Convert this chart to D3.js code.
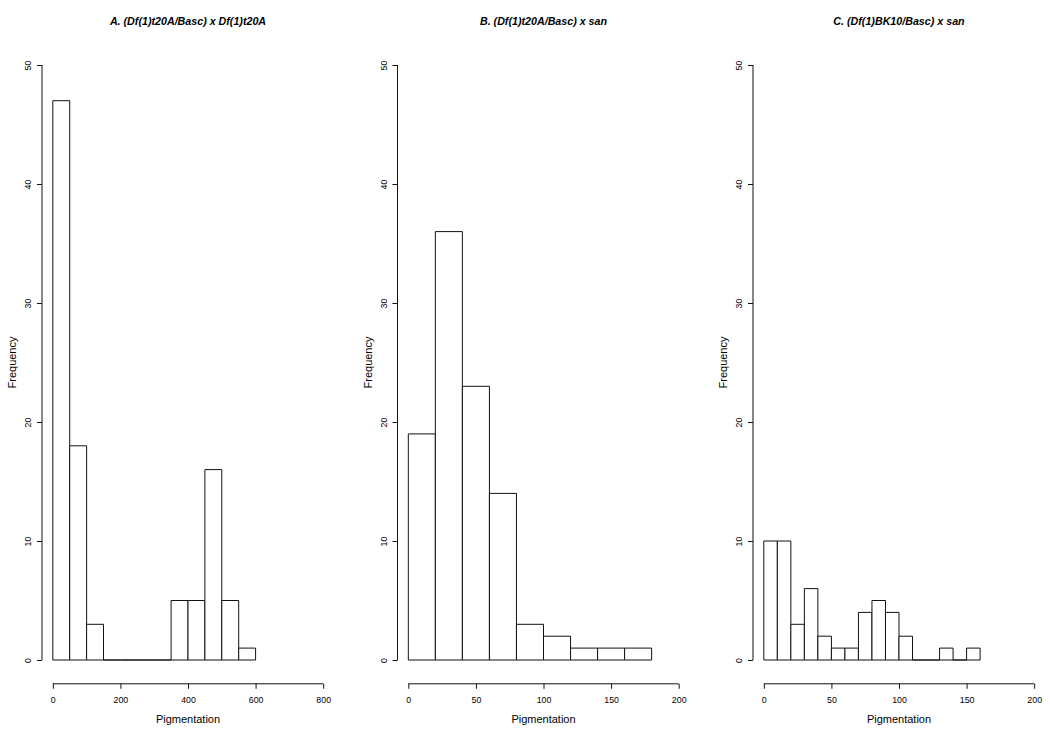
<!DOCTYPE html>
<html><head><meta charset="utf-8">
<script src="https://cdn.jsdelivr.net/npm/d3@7"></script>
<style>body{margin:0;background:#fff}svg{display:block}text{font-family:"Liberation Sans",Arial,Helvetica,sans-serif;fill:#000}</style>
</head><body>
<script>
const titles = ["A. (Df(1)t20A/Basc) x Df(1)t20A", "B. (Df(1)t20A/Basc) x san", "C. (Df(1)BK10/Basc) x san"];
// bin edges and counts
const edgesA = [0,50,100,150,200,250,300,350,400,450,500,550,600];
const countsA = [47,18,3,0,0,0,0,5,5,16,5,1];
const edgesB = [0,20,40,60,80,100,120,140,160,180];
const countsB = [19,36,23,14,3,2,1,1,1];
const edgesC = [0,10,20,30,40,50,60,70,80,90,100,110,120,130,140,150,160];
const countsC = [10,10,3,6,2,1,1,4,5,4,2,0,0,1,0,1];
const xTicksA = [0,200,400,600,800];
const xTicksBC = [0,50,100,150,200];
const yTicks = [0,10,20,30,40,50];
const xLabel = "Pigmentation", yLabel = "Frequency";

const panels = [
  {title: titles[0], edges: edgesA, counts: countsA, xmax: 800, ticks: xTicksA, left: 42},
  {title: titles[1], edges: edgesB, counts: countsB, xmax: 200, ticks: xTicksBC, left: 397.5},
  {title: titles[2], edges: edgesC, counts: countsC, xmax: 200, ticks: xTicksBC, left: 753}
];

const W = 1050, H = 737;
const svg = d3.select("body").append("svg").attr("width", W).attr("height", H);
const pw = 292, plotTop = 41.2, plotBottom = 683.8;

panels.forEach(p => {
  const pad = p.xmax * 0.04;
  const x = d3.scaleLinear().domain([-pad, p.xmax + pad]).range([p.left, p.left + pw]);
  const y = d3.scaleLinear().domain([-2, 52]).range([plotBottom, plotTop]);
  const g = svg.append("g");
  const bins = p.counts.map((c, i) => ({x0: p.edges[i], x1: p.edges[i+1], c}));
  g.selectAll("path.bar").data(bins).enter().append("path").attr("class", "bar")
    .attr("d", d => `M${x(d.x0)},${y(0)}V${y(d.c)}H${x(d.x1)}V${y(0)}Z`)
    .attr("fill", "#fff").attr("stroke", "#111").attr("stroke-width", 1);

  // x axis
  const xa = g.append("g").attr("transform", `translate(0,${plotBottom})`)
    .call(d3.axisBottom(x).tickValues(p.ticks).tickSize(5).tickPadding(8).tickSizeOuter(0));
  xa.select(".domain").attr("d", `M${x(p.ticks[0])},0H${x(p.ticks[p.ticks.length-1])}`).attr("stroke", "#111");
  xa.selectAll(".tick line").attr("stroke", "#111");
  xa.selectAll("text").attr("font-size", "8.8px").attr("dy", null).attr("y", 19).attr("fill", "#000");

  // y axis
  const ya = g.append("g").attr("transform", `translate(${p.left},0)`)
    .call(d3.axisLeft(y).tickValues(yTicks).tickSize(5).tickSizeOuter(0));
  ya.select(".domain").attr("d", `M0,${y(0)}V${y(50)}`).attr("stroke", "#111");
  ya.selectAll(".tick line").attr("stroke", "#111");
  ya.selectAll("text").attr("font-size", "8.8px").attr("dy", null).attr("x", null)
    .attr("text-anchor", "middle").attr("fill", "#000").attr("transform", "translate(-11,0) rotate(-90)");

  g.append("text").attr("x", (p.left + p.left + pw) / 2).attr("y", 24.5)
    .attr("text-anchor", "middle").attr("font-size", "10.7px").attr("font-weight", "bold").attr("font-style", "italic")
    .text(p.title);
  g.append("text").attr("x", (p.left + p.left + pw) / 2).attr("y", 722.5)
    .attr("text-anchor", "middle").attr("font-size", "11px").text(xLabel);
  g.append("text").attr("transform", `translate(${p.left - 26},${(plotTop + plotBottom) / 2}) rotate(-90)`)
    .attr("text-anchor", "middle").attr("font-size", "11px").text(yLabel);
});
</script>
</body></html>
